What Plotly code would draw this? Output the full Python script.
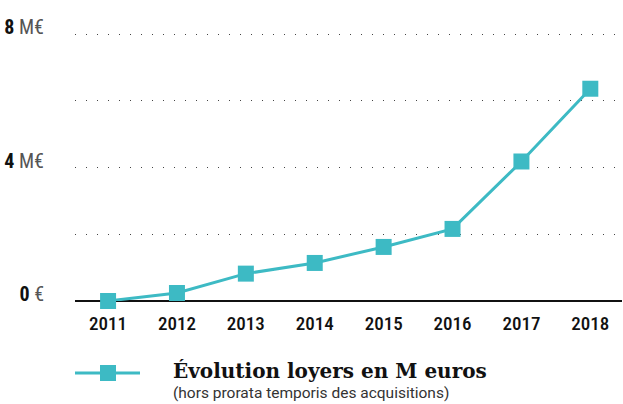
import plotly.graph_objects as go

years = [2011, 2012, 2013, 2014, 2015, 2016, 2017, 2018]
loyers = [0.0, 0.24, 0.82, 1.14, 1.62, 2.16, 4.18, 6.36]
y_ticks = [0, 2, 4, 6, 8]
y_labels = ["0 €", "", "4 M€", "", "8 M€"]
series_name = "Évolution loyers en M euros"
subtitle = "(hors prorata temporis des acquisitions)"

color = "#3dbac4"
cond = ("Roboto Condensed, Noto Sans Condensed, Noto Sans ExtraCondensed, "
        "DejaVu Sans Condensed, Liberation Sans Narrow, Roboto, sans-serif")

def fmt(lbl):
    if not lbl:
        return ""
    num, unit = lbl.split(" ", 1)
    return f"<b>{num}</b> <span style='color:#555'>{unit}</span>"

fig = go.Figure()
fig.add_trace(go.Scatter(
    x=years, y=loyers, mode="lines+markers",
    line=dict(color=color, width=3),
    marker=dict(symbol="square", size=16, color=color),
    cliponaxis=False, showlegend=False, name=series_name,
))

W, H = 623, 404
L, R, T, B = 75, 1, 20, 103
pw, ph = W - L - R, H - T - B

def px_x(x):
    return (x - L) / pw

def px_y(y):
    return (H - B - y) / ph

# legend glyph
fig.add_shape(type="line", xref="paper", yref="paper",
              x0=px_x(75), x1=px_x(140), y0=px_y(373), y1=px_y(373),
              line=dict(color=color, width=3))
fig.add_shape(type="rect", xref="paper", yref="paper",
              x0=px_x(100), x1=px_x(116), y0=px_y(365), y1=px_y(381),
              fillcolor=color, line=dict(width=0))
fig.add_annotation(xref="paper", yref="paper", x=px_x(171), y=px_y(371),
                   xanchor="left", yanchor="middle", showarrow=False,
                   text=f"<b>{series_name}</b>",
                   font=dict(family="DejaVu Serif, Liberation Serif, serif", size=20, color="#111"))
fig.add_annotation(xref="paper", yref="paper", x=px_x(171), y=px_y(393),
                   xanchor="left", yanchor="middle", showarrow=False,
                   text=subtitle,
                   font=dict(family="Roboto, Noto Sans, sans-serif", size=15.5, color="#333"))

fig.update_layout(
    width=W, height=H,
    margin=dict(l=L, r=R, t=T, b=B),
    paper_bgcolor="white", plot_bgcolor="white",
    xaxis=dict(
        range=[2010.52, 2018.46], tickvals=years, ticktext=[str(y) for y in years],
        showgrid=False, zeroline=False, showline=False, ticks="",
        tickfont=dict(family=cond, size=19, color="#111", weight=500),
        ticklabelstandoff=9,
    ),
    yaxis=dict(
        range=[0, ph / 33.375], tickvals=y_ticks, ticktext=[fmt(t) for t in y_labels],
        showgrid=True, gridcolor="#444", gridwidth=1, griddash="1px,10px",
        zeroline=True, zerolinecolor="#111", zerolinewidth=1.5,
        showline=False, ticks="",
        tickfont=dict(family=cond, size=20, color="#111"),
        ticklabelstandoff=30, ticklabelshift=-7,
    ),
)

fig.write_html("out.html", config={"displayModeBar": False},
               post_script="document.body.style.margin='0';")
